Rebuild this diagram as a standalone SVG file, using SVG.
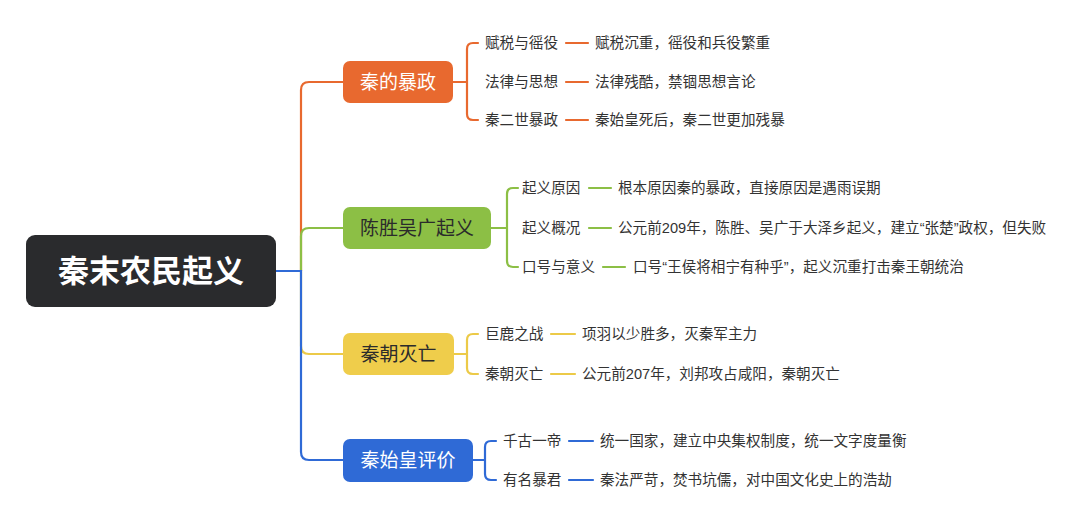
<svg xmlns="http://www.w3.org/2000/svg" width="1080" height="523" viewBox="0 0 1080 523">
<style>
text{font-family:"Liberation Sans","Noto Sans CJK SC",sans-serif;dominant-baseline:central}
.root{font-size:31px;font-weight:bold;fill:#fff}
.n{font-size:19px}
.w{fill:#fff}
.d{fill:#2b2b2b}
.t{font-size:14.6px;fill:#333}
.c{fill:none;stroke-width:2.2;stroke-linecap:round}
.o{stroke:#e8692f}.g{stroke:#8cbf45}.y{stroke:#ecca48}.b{stroke:#2f6ad6}
</style>
<rect width="1080" height="523" fill="#fff"/>
<g id="connectors">
<path class="c o" d="M301 271V90Q301 82 309 82H343"/>
<path class="c g" d="M301 271V236Q301 228 309 228H343"/>
<path class="c y" d="M301 271V346Q301 354 309 354H343"/>
<path class="c b" d="M276 271H301V452Q301 460 309 460H343"/>
<path class="c o" d="M453 82H467M478 43H473Q467 43 467 49V114Q467 120 473 120H478"/>
<path class="c o" d="M566 43H588M566 82H588M566 120H588"/>
<path class="c g" d="M491 228H507M518 188H513Q507 188 507 194V261Q507 267 513 267H518"/>
<path class="c g" d="M589 188H611M589 228H611M603 267H625"/>
<path class="c y" d="M454 354H467M478 334H473Q467 334 467 340V368Q467 374 473 374H478"/>
<path class="c y" d="M551 334H575M551 374H575"/>
<path class="c b" d="M473 460H485M496 441H491Q485 441 485 447V474Q485 480 491 480H496"/>
<path class="c b" d="M569 441H593M569 480H593"/>
</g>
<g id="root">
<rect x="26" y="235" width="250" height="72" rx="9" fill="#2a2b2d"/>
<text class="root" x="151" y="271" text-anchor="middle">秦末农民起义</text>
</g>
<g id="n1">
<rect x="343" y="61" width="110" height="42" rx="7" fill="#e8692f"/>
<text class="n w" x="398" y="82" text-anchor="middle">秦的暴政</text>
</g>
<g id="n1a"><text class="t" x="485" y="43">赋税与徭役</text></g>
<g id="n1a1"><text class="t" x="595" y="43">赋税沉重，徭役和兵役繁重</text></g>
<g id="n1b"><text class="t" x="485" y="82">法律与思想</text></g>
<g id="n1b1"><text class="t" x="595" y="82">法律残酷，禁锢思想言论</text></g>
<g id="n1c"><text class="t" x="485" y="120">秦二世暴政</text></g>
<g id="n1c1"><text class="t" x="595" y="120">秦始皇死后，秦二世更加残暴</text></g>
<g id="n2">
<rect x="343" y="207" width="148" height="42" rx="7" fill="#8cbf45"/>
<text class="n d" x="417" y="228" text-anchor="middle">陈胜吴广起义</text>
</g>
<g id="n2a"><text class="t" x="522" y="188">起义原因</text></g>
<g id="n2a1"><text class="t" x="618" y="188">根本原因秦的暴政，直接原因是遇雨误期</text></g>
<g id="n2b"><text class="t" x="522" y="228">起义概况</text></g>
<g id="n2b1"><text class="t" x="618" y="228">公元前209年，陈胜、吴广于大泽乡起义，建立“张楚”政权，但失败</text></g>
<g id="n2c"><text class="t" x="522" y="267">口号与意义</text></g>
<g id="n2c1"><text class="t" x="633" y="267">口号“王侯将相宁有种乎”，起义沉重打击秦王朝统治</text></g>
<g id="n3">
<rect x="343" y="333" width="111" height="42" rx="7" fill="#efcd4b"/>
<text class="n d" x="398.5" y="354" text-anchor="middle">秦朝灭亡</text>
</g>
<g id="n3a"><text class="t" x="485" y="334">巨鹿之战</text></g>
<g id="n3a1"><text class="t" x="582" y="334">项羽以少胜多，灭秦军主力</text></g>
<g id="n3b"><text class="t" x="485" y="374">秦朝灭亡</text></g>
<g id="n3b1"><text class="t" x="582" y="374">公元前207年，刘邦攻占咸阳，秦朝灭亡</text></g>
<g id="n4">
<rect x="343" y="439" width="130" height="43" rx="7" fill="#2f6ad6"/>
<text class="n w" x="408" y="460.5" text-anchor="middle">秦始皇评价</text>
</g>
<g id="n4a"><text class="t" x="503" y="441">千古一帝</text></g>
<g id="n4a1"><text class="t" x="600" y="441">统一国家，建立中央集权制度，统一文字度量衡</text></g>
<g id="n4b"><text class="t" x="503" y="480">有名暴君</text></g>
<g id="n4b1"><text class="t" x="600" y="480">秦法严苛，焚书坑儒，对中国文化史上的浩劫</text></g>
</svg>
